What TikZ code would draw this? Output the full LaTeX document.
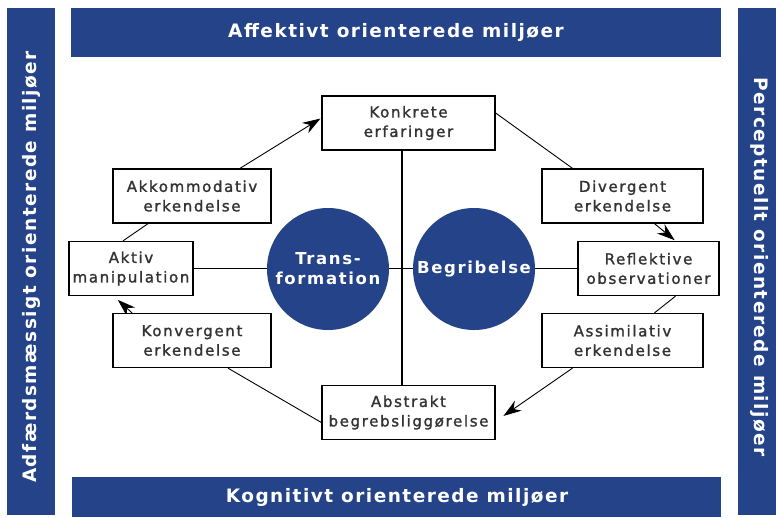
\documentclass[tikz,border=0pt]{standalone}
\usepackage{fontspec}
\newfontfamily\barfont[LetterSpace=8]{DejaVu Sans}
\newfontfamily\boxfont[LetterSpace=11,FakeBold=1.5]{DejaVu Sans}
\newfontfamily\circfont[LetterSpace=10]{DejaVu Sans}
\usetikzlibrary{arrows.meta,backgrounds}
\definecolor{kolbblue}{HTML}{244389}
\tikzset{
  box/.style={draw=black, line width=1.3pt, fill=white, minimum height=54pt, inner sep=0pt,
    align=center, text=black!80, font=\boxfont\fontsize{15}{19.5}\selectfont},
  disc/.style={circle, fill=kolbblue, minimum size=122pt, inner sep=0pt, align=center,
    text=white, font=\circfont\bfseries\fontsize{16.5}{20}\selectfont},
  bartext/.style={text=white, inner sep=0pt, font=\barfont\bfseries\fontsize{18.5}{20}\selectfont},
  conn/.style={line width=0.9pt, black},
  arr/.style={conn, -{Stealth[length=18pt,width=12pt]}, shorten >=1pt},
  cross/.style={line width=1.3pt, black}
}
\begin{document}
\begin{tikzpicture}[x=1pt,y=-1pt]
\useasboundingbox (0,0) rectangle (776,517);
% bars
\fill[kolbblue] (71,8) rectangle (721,57);
\fill[kolbblue] (72,477) rectangle (721,517);
\fill[kolbblue] (7,8) rectangle (55,515);
\fill[kolbblue] (738,8) rectangle (776,515);
\node[bartext] (toptext) at (396,32.5) {Affektivt orienterede miljøer};
\node[bartext] (bottext) at (397,497) {Kognitivt orienterede miljøer};
\node[bartext, rotate=90] (lefttext) at (31,267) {Adfærdsmæssigt orienterede miljøer};
\node[bartext, rotate=-90] (righttext) at (760,267) {Perceptuellt orienterede miljøer};
% boxes
\node[box, minimum width=173pt] (konk) at (408.5,123) {Konkrete\\erfaringer};
\node[box, minimum width=158pt] (akk) at (192,196) {Akkommodativ\\erkendelse};
\node[box, minimum width=124pt] (aktiv) at (131,268.5) {Aktiv\\manipulation};
\node[box, minimum width=158pt] (konv) at (192,340.5) {Konvergent\\erkendelse};
\node[box, minimum width=161pt] (div) at (622.5,196) {Divergent\\erkendelse};
\node[box, minimum width=141pt] (refl) at (648.5,268.5) {Reflektive\\observationer};
\node[box, minimum width=161pt] (asm) at (622.5,340.5) {Assimilativ\\erkendelse};
\node[box, minimum width=173pt] (abs) at (408.5,412.5) {Abstrakt\\begrebsliggørelse};
% circles
\node[disc] (trans) at (328,269) {Trans-\\formation};
\node[disc] (begr) at (474,269) {Begribelse};
\begin{scope}[on background layer]
  \draw[cross] ([xshift=-6.5pt]konk.south) -- ([xshift=-6.5pt]abs.north);
  \draw[cross] (aktiv.east) -- (aktiv.east -| refl.west);
  \draw[arr] ([xshift=48pt]akk.north) -- ([yshift=5pt]konk.west);
  \draw[conn] ([yshift=10pt]konk.east) -- ([xshift=-50pt]div.north);
  \draw[arr] ([xshift=32pt]div.south) -- ([xshift=27pt]refl.north);
  \draw[conn] ([xshift=27pt]refl.south) -- ([xshift=32pt]asm.north);
  \draw[arr] ([xshift=-50pt]asm.south) -- ([xshift=7pt,yshift=-4pt]abs.east);
  \draw[conn] ([yshift=-10pt]abs.west) -- ([xshift=36pt]konv.south);
  \draw[arr] ([xshift=-60pt]konv.north) -- ([xshift=-14pt,yshift=-3pt]aktiv.south);
  \draw[conn] ([xshift=-8pt]aktiv.north) -- ([xshift=-44pt]akk.south);
\end{scope}
\end{tikzpicture}
\end{document}
